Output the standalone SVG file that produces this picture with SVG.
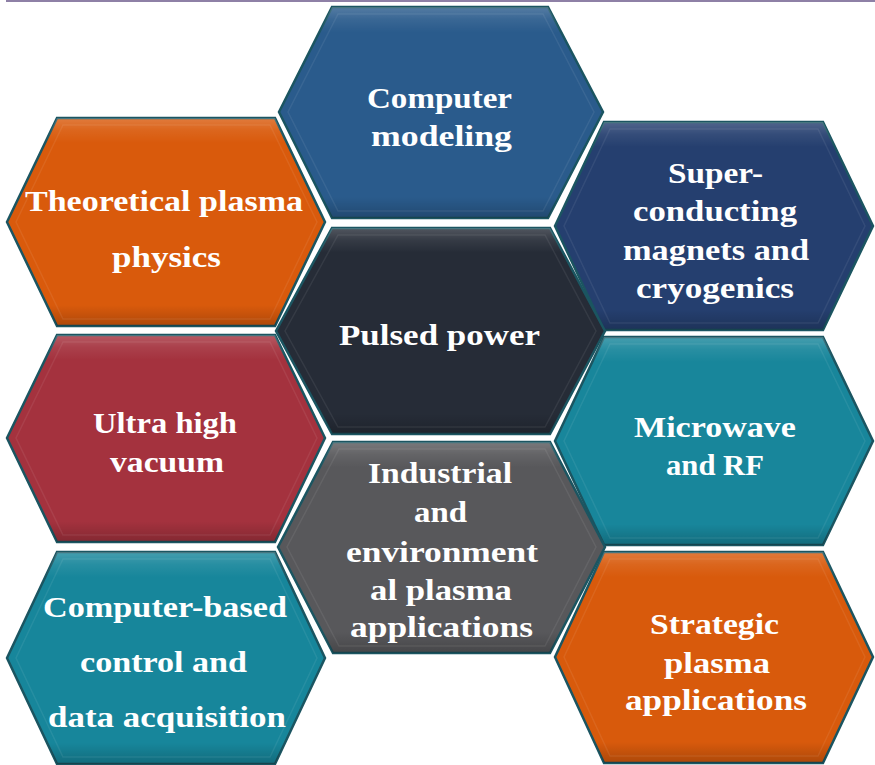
<svg xmlns="http://www.w3.org/2000/svg" width="875" height="765" viewBox="0 0 875 765">
<style>
.hex{stroke:#1b5561;stroke-width:2.5;stroke-linejoin:miter}
.bev{fill:url(#bevel);stroke:none}
.rim{fill:none;stroke:#ffffff;stroke-opacity:0.07;stroke-width:1.5}
.t{fill:#ffffff;font-family:"Liberation Serif","DejaVu Serif",serif;font-weight:bold;font-size:30px;text-anchor:middle}
</style>
<defs>
<linearGradient id="bevel" x1="0" y1="0" x2="0" y2="1">
<stop offset="0" stop-color="#ffffff" stop-opacity="0.2"/>
<stop offset="0.06" stop-color="#ffffff" stop-opacity="0.07"/>
<stop offset="0.12" stop-color="#ffffff" stop-opacity="0"/>
<stop offset="0.9" stop-color="#000000" stop-opacity="0"/>
<stop offset="1" stop-color="#000000" stop-opacity="0.2"/>
</linearGradient>
</defs>
<rect x="6" y="0" width="869" height="2" fill="#8e80a6"/>

<g id="computer-modeling">
<polygon class="hex" fill="#2a5b8c" points="332,7 548,7 603,112 548,218 332,218 279,112"/>
<polygon class="bev" points="332,7 548,7 603,112 548,218 332,218 279,112"/>
<polygon class="rim" points="338,14 543,14 594,112 543,211 338,211 288,112"/>
<text class="t" x="439.5" y="108" textLength="145" lengthAdjust="spacingAndGlyphs">Computer</text>
<text class="t" x="441.5" y="146" textLength="141" lengthAdjust="spacingAndGlyphs">modeling</text>
</g>

<g id="theoretical-plasma-physics">
<polygon class="hex" fill="#d95a0c" points="57,118 275,118 325,222 275,326 57,326 7,222"/>
<polygon class="bev" points="57,118 275,118 325,222 275,326 57,326 7,222"/>
<polygon class="rim" points="63,125 270,125 317,222 270,319 63,319 16,222"/>
<text class="t" x="164" y="211" textLength="278" lengthAdjust="spacingAndGlyphs">Theoretical plasma</text>
<text class="t" x="166.5" y="267" textLength="109" lengthAdjust="spacingAndGlyphs">physics</text>
</g>

<g id="superconducting-magnets">
<polygon class="hex" fill="#253f6f" points="604,122 823,122 873,226 823,330 604,330 555,226"/>
<polygon class="bev" points="604,122 823,122 873,226 823,330 604,330 555,226"/>
<polygon class="rim" points="610,129 818,129 865,226 818,323 610,323 564,226"/>
<text class="t" x="715.5" y="183" textLength="95" lengthAdjust="spacingAndGlyphs">Super-</text>
<text class="t" x="715" y="221" textLength="164" lengthAdjust="spacingAndGlyphs">conducting</text>
<text class="t" x="716" y="260" textLength="186" lengthAdjust="spacingAndGlyphs">magnets and</text>
<text class="t" x="715" y="298" textLength="158" lengthAdjust="spacingAndGlyphs">cryogenics</text>
</g>

<g id="pulsed-power">
<polygon class="hex" fill="#262c37" points="332,228 550,228 605,331 550,434 332,434 276,331"/>
<polygon class="bev" points="332,228 550,228 605,331 550,434 332,434 276,331"/>
<polygon class="rim" points="338,235 545,235 596,331 545,427 338,427 285,331"/>
<text class="t" x="439.5" y="345" textLength="201" lengthAdjust="spacingAndGlyphs">Pulsed power</text>
</g>

<g id="ultra-high-vacuum">
<polygon class="hex" fill="#a4323e" points="57,335 275,335 325,438 275,542 57,542 7,438"/>
<polygon class="bev" points="57,335 275,335 325,438 275,542 57,542 7,438"/>
<polygon class="rim" points="63,342 270,342 317,438 270,535 63,535 16,438"/>
<text class="t" x="165" y="433" textLength="144" lengthAdjust="spacingAndGlyphs">Ultra high</text>
<text class="t" x="167" y="472" textLength="114" lengthAdjust="spacingAndGlyphs">vacuum</text>
</g>

<g id="microwave-rf">
<polygon class="hex" fill="#18869b" points="604,337 823,337 873,441 823,545 604,545 555,441"/>
<polygon class="bev" points="604,337 823,337 873,441 823,545 604,545 555,441"/>
<polygon class="rim" points="610,344 818,344 865,441 818,538 610,538 564,441"/>
<text class="t" x="715" y="437" textLength="162" lengthAdjust="spacingAndGlyphs">Microwave</text>
<text class="t" x="715" y="475" textLength="98" lengthAdjust="spacingAndGlyphs">and RF</text>
</g>

<g id="industrial-environmental">
<polygon class="hex" fill="#58585b" points="333,442 550,442 605,547 550,653 333,653 278,547"/>
<polygon class="bev" points="333,442 550,442 605,547 550,653 333,653 278,547"/>
<polygon class="rim" points="339,449 545,449 596,547 545,646 339,646 287,547"/>
<text class="t" x="440" y="483" textLength="144" lengthAdjust="spacingAndGlyphs">Industrial</text>
<text class="t" x="440.5" y="522" textLength="53" lengthAdjust="spacingAndGlyphs">and</text>
<text class="t" x="442" y="562" textLength="192" lengthAdjust="spacingAndGlyphs">environment</text>
<text class="t" x="441" y="600" textLength="142" lengthAdjust="spacingAndGlyphs">al plasma</text>
<text class="t" x="441.5" y="637" textLength="183" lengthAdjust="spacingAndGlyphs">applications</text>
</g>

<g id="computer-based-control">
<polygon class="hex" fill="#17869b" points="57,552 275,552 325,658 275,764 57,764 7,658"/>
<polygon class="bev" points="57,552 275,552 325,658 275,764 57,764 7,658"/>
<polygon class="rim" points="63,559 270,559 317,658 270,757 63,757 16,658"/>
<text class="t" x="165" y="617" textLength="244" lengthAdjust="spacingAndGlyphs">Computer-based</text>
<text class="t" x="163.5" y="672" textLength="167" lengthAdjust="spacingAndGlyphs">control and</text>
<text class="t" x="167" y="727" textLength="238" lengthAdjust="spacingAndGlyphs">data acquisition</text>
</g>

<g id="strategic-plasma">
<polygon class="hex" fill="#d85a0c" points="604,552 823,552 873,657 823,763 604,763 555,657"/>
<polygon class="bev" points="604,552 823,552 873,657 823,763 604,763 555,657"/>
<polygon class="rim" points="610,559 818,559 865,657 818,756 610,756 564,657"/>
<text class="t" x="714.5" y="634" textLength="129" lengthAdjust="spacingAndGlyphs">Strategic</text>
<text class="t" x="717" y="673" textLength="106" lengthAdjust="spacingAndGlyphs">plasma</text>
<text class="t" x="716" y="710" textLength="182" lengthAdjust="spacingAndGlyphs">applications</text>
</g>

<g id="connectors"></g>
</svg>
